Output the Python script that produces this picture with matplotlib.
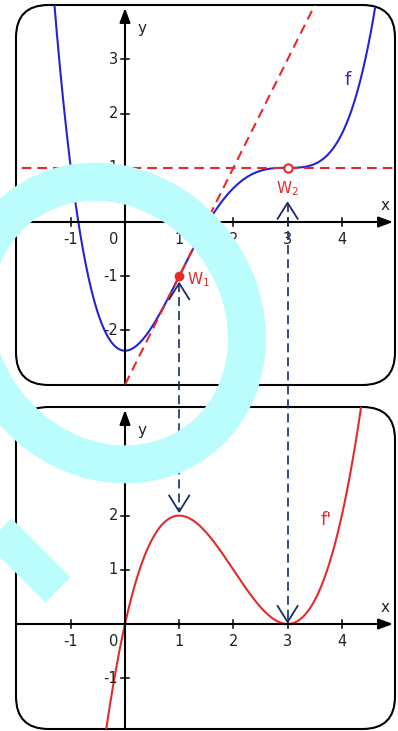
import numpy as np
import matplotlib
matplotlib.use('Agg')
import matplotlib.pyplot as plt
from matplotlib.patches import FancyBboxPatch, Ellipse
from matplotlib.lines import Line2D
from matplotlib.transforms import Affine2D

# f(x) = 1/8 x^4 - x^3 + 9/4 x^2 - 19/8  (highest power first)
f_coef = [0.125, -1.0, 2.25, 0.0, -2.375]
df_coef = list(np.polyder(f_coef))          # f'(x) = 1/2 x^3 - 3 x^2 + 9/2 x
w_x = [1, 3]                                # Wendestellen W1, W2
w_names = ['W$_1$', 'W$_2$']
top_xticks = [-1, 0, 1, 2, 3, 4]
top_yticks = [-2, -1, 1, 2, 3]
bot_xticks = [-1, 0, 1, 2, 3, 4]
bot_yticks = [-1, 1, 2, 3]

W, H = 398, 731
PX = 54.2                       # pixels per unit
BLUE, RED, NAVY = '#2424d2', '#e62a2a', '#172c6c'
CYAN = '#bbfcfd'
TXT = '#222222'

plt.rcParams['font.family'] = ['DejaVu Sans']
plt.rcParams['lines.scale_dashes'] = False

fig = plt.figure(figsize=(W / 100, H / 100), dpi=100)
fig.patch.set_facecolor('white')


def panel(box, origin, xticks, yticks):
    l, t, r, b = box
    ox, oy = origin
    ax = fig.add_axes([l / W, 1 - b / H, (r - l) / W, (b - t) / H])
    x0, x1 = (l - ox) / PX, (r - ox) / PX
    y0, y1 = (oy - b) / PX, (oy - t) / PX
    ax.set_xlim(x0, x1); ax.set_ylim(y0, y1); ax.axis('off')
    frame = FancyBboxPatch((x0, y0), x1 - x0, y1 - y0,
                           boxstyle='round,pad=0,rounding_size=0.6',
                           fc='white', ec='black', lw=1.5, clip_on=False, zorder=0)
    ax.add_patch(frame)
    arrow = dict(arrowstyle='-|>,head_length=0.86,head_width=0.32', color='black',
                 lw=1.5, shrinkA=0, shrinkB=0, mutation_scale=10)
    ax.annotate('', xy=(x1 - 2 / PX, 0), xytext=(x0, 0), arrowprops=arrow, annotation_clip=False)
    ax.annotate('', xy=(0, y1 - 3 / PX), xytext=(0, y0), arrowprops=arrow, annotation_clip=False)
    tk = 4 / PX
    for t_ in xticks:
        if t_ != 0:
            ax.plot([t_, t_], [-tk, tk], color='black', lw=1.1)
        ax.text(t_ - (0.2 if t_ == 0 else 0), -0.32, str(t_), ha='center', va='center',
                fontsize=10.5, color=TXT)
    for t_ in yticks:
        ax.plot([-tk, tk], [t_, t_], color='black', lw=1.1)
        ax.text(-0.13, t_, str(t_), ha='right', va='center', fontsize=10.5, color=TXT)
    ax.text(4.8, 0.31, 'x', ha='center', va='center', fontsize=11, color=TXT)
    ax.text(0.31, y1 - 0.44, 'y', ha='center', va='center', fontsize=11, color=TXT)
    return ax, frame


ax1, fr1 = panel((16, 5, 395, 385), (125, 222), top_xticks, top_yticks)
ax2, fr2 = panel((16, 407, 395, 729), (125, 624), bot_xticks, bot_yticks)

xs = np.linspace(-2.2, 5.2, 900)
l, = ax1.plot(xs, np.polyval(f_coef, xs), color=BLUE, lw=1.5, zorder=2)
l.set_clip_path(fr1)
l, = ax2.plot(xs, np.polyval(df_coef, xs), color=RED, lw=1.5, zorder=2)
l.set_clip_path(fr2)

# Wendetangenten
for wx in w_x:
    wy, m = np.polyval(f_coef, wx), np.polyval(df_coef, wx)
    l, = ax1.plot(xs, wy + m * (xs - wx), color=RED, lw=1.5, dashes=(7, 4.3), zorder=3)
    l.set_clip_path(fr1)

w1y, w2y = np.polyval(f_coef, w_x[0]), np.polyval(f_coef, w_x[1])
ax1.plot(w_x[0], w1y, 'o', ms=6, color=RED, zorder=5)
ax1.plot(w_x[1], w2y, 'o', ms=6, mfc='white', mec=RED, mew=1.5, zorder=5)
ax1.text(w_x[0] + 0.14, w1y - 0.07, w_names[0], ha='left', va='center', fontsize=11, color=RED)
ax1.text(w_x[1], w2y - 0.39, w_names[1], ha='center', va='center', fontsize=11, color=RED)
ax1.text(4.11, 2.62, 'f', ha='center', va='center', fontsize=13, color=BLUE)
ax2.text(3.71, 1.92, "f'", ha='center', va='center', fontsize=13, color=RED)

# gestrichelte Doppelpfeile f -> f'
to_fig = fig.transFigure.inverted()


def link(p_top, p_bot):
    xa, ya = p_top
    xb, yb = p_bot
    pts = to_fig.transform([(xa, ya), (xb, yb)])
    fig.add_artist(Line2D(pts[:, 0], pts[:, 1], color=NAVY, lw=1.2, dashes=(6.5, 3.6),
                          transform=fig.transFigure, zorder=5))
    for (x, y, s) in [(xa, ya, -1), (xb, yb, 1)]:
        v = to_fig.transform([(x - 10, y + s * 16), (x, y), (x + 10, y + s * 16)])
        fig.add_artist(Line2D(v[:, 0], v[:, 1], color=NAVY, lw=1.3,
                              transform=fig.transFigure, zorder=5))


a = ax1.transData.transform((w_x[0], w1y)); b = ax2.transData.transform((w_x[0], np.polyval(df_coef, w_x[0])))
link((a[0], a[1] - 7), (b[0], b[1] + 4))
a = ax1.transData.transform((w_x[1], w2y)); b = ax2.transData.transform((w_x[1], np.polyval(df_coef, w_x[1])))
link((a[0], a[1] - 35), (b[0], b[1] + 2))

# cyan overlay drawn in image pixel coordinates (y downward)
img = Affine2D().scale(1 / W, -1 / H).translate(0, 1) + fig.transFigure
fig.add_artist(Ellipse((110, 323), 294, 262, angle=53, fill=False, ec=CYAN, lw=27.4,
                       transform=img, zorder=10))
fig.add_artist(Line2D([-60, 58], [472, 590], color=CYAN, lw=25.5, solid_capstyle='butt',
                      transform=img, zorder=10))

fig.savefig('out.png', dpi=100, facecolor='white')
